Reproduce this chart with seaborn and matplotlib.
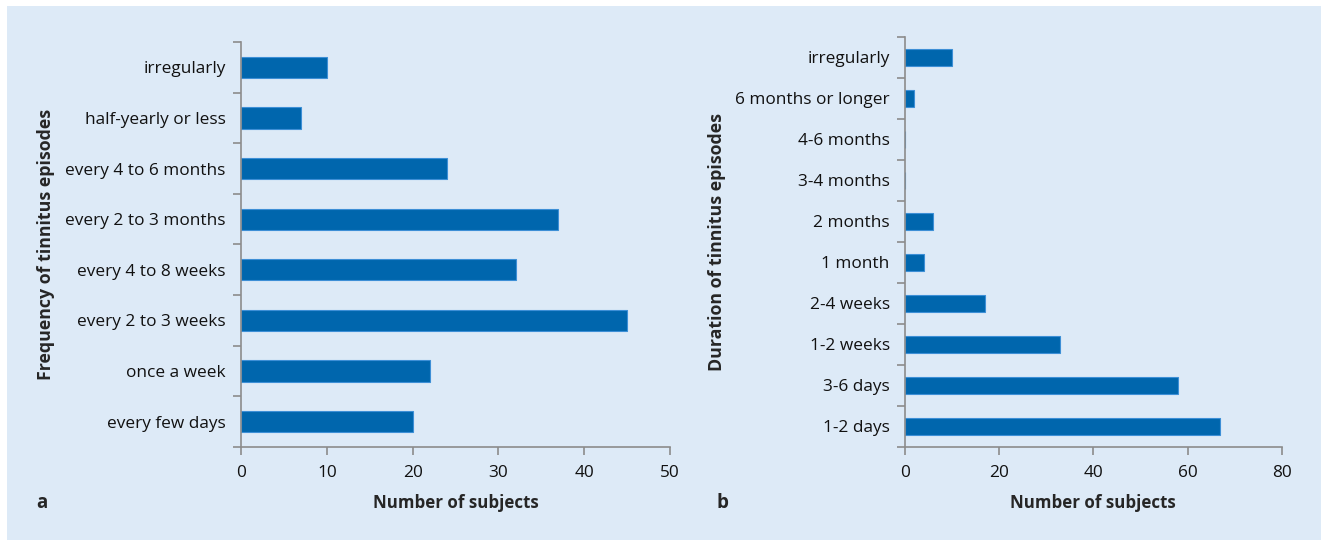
import numpy as np
import pandas as pd
import matplotlib.pyplot as plt
import seaborn as sns
from matplotlib.ticker import FixedLocator

# panel a data
freq_labels = ['irregularly', 'half-yearly or less', 'every 4 to 6 months',
               'every 2 to 3 months', 'every 4 to 8 weeks', 'every 2 to 3 weeks',
               'once a week', 'every few days']
freq_counts = [10, 7, 24, 37, 32, 45, 22, 20]

# panel b data
dur_labels = ['irregularly', '6 months or longer', '4-6 months', '3-4 months',
              '2 months', '1 month', '2-4 weeks', '1-2 weeks', '3-6 days', '1-2 days']
dur_counts = [10, 2, 0, 0, 6, 4, 17, 33, 58, 67]

bg = '#ddeaf7'
bar_col = '#0066ad'
axis_col = '#8c8c8c'

sns.set_theme(style='white')
plt.rcParams['font.family'] = ['Open Sans', 'DejaVu Sans']

fig = plt.figure(figsize=(13.21, 5.4), dpi=100)
fig.patch.set_facecolor('white')
fig.patches.append(plt.Rectangle((7 / 1321, 0), 1, 1 - 6 / 540, transform=fig.transFigure,
                                 facecolor=bg, edgecolor='none', zorder=-5))

ax1 = fig.add_axes([241 / 1321, 93 / 540, 429 / 1321, 405 / 540])
ax2 = fig.add_axes([905 / 1321, 93 / 540, 376.7 / 1321, 410.4 / 540])


def draw(ax, labels, counts, xmax, xstep, ylab):
    df = pd.DataFrame({'cat': labels, 'n': counts})
    sns.barplot(data=df, x='n', y='cat', order=labels, orient='h', ax=ax,
                color=bar_col, width=0.42, edgecolor='#3d8fd6', linewidth=0.8,
                saturation=1)
    ax.set_facecolor('none')
    n = len(labels)
    ax.set_ylim(n - 0.5, -0.5)
    ax.set_xlim(0, xmax)
    ax.set_xticks(np.arange(0, xmax + 1, xstep))
    ax.yaxis.set_minor_locator(FixedLocator(np.arange(-0.5, n, 1.0)))
    ax.tick_params(axis='y', which='major', length=0, pad=11, labelsize=12.4, colors='#111111')
    ax.tick_params(axis='y', which='minor', left=True, length=6, width=1.2, color=axis_col)
    ax.tick_params(axis='x', which='major', bottom=True, length=6, width=1.2, color=axis_col,
                   labelsize=12.4, labelcolor='#111111', pad=7)
    for s in ['top', 'right']:
        ax.spines[s].set_visible(False)
    for s in ['left', 'bottom']:
        ax.spines[s].set_color(axis_col)
        ax.spines[s].set_linewidth(1.2)
    ax.set_xlabel('Number of subjects', fontsize=12.2, fontweight='bold', labelpad=9)
    ax.set_ylabel(ylab, fontsize=12.8, fontweight='bold')


draw(ax1, freq_labels, freq_counts, 50, 10, 'Frequency of tinnitus episodes')
draw(ax2, dur_labels, dur_counts, 80, 20, 'Duration of tinnitus episodes')
ax1.yaxis.set_label_coords(-(241 - 55) / 429, 0.5)
ax2.yaxis.set_label_coords(-(905 - 726) / 376.7, 0.5)

fig.text(42 / 1321, 1 - 503 / 540, 'a', fontsize=13.5, fontweight='bold', va='center', ha='center')
fig.text(722 / 1321, 1 - 503 / 540, 'b', fontsize=13.5, fontweight='bold', va='center', ha='center')

fig.savefig('out.png', dpi=100, facecolor='white')
